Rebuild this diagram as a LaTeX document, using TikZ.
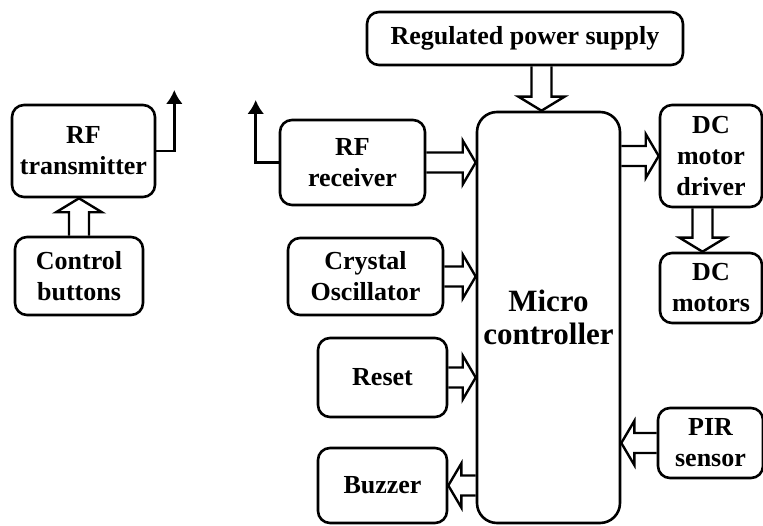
\documentclass[tikz,border=0pt]{standalone}
\usepackage{fontspec}
\setmainfont{Liberation Serif}
\usetikzlibrary{calc,arrows.meta}
\tikzset{
  box/.style={draw, line width=2.6pt, rounded corners=12pt, align=center,
    font=\fontsize{26}{31}\selectfont\bfseries, inner sep=0pt},
  blk/.style={draw, line width=2.4pt, line join=miter, miter limit=10},
  ant/.style={draw, line width=2.6pt, -{Latex[length=14pt,width=17pt]}}
}
\newcommand\hblk[2]{%
  \path[blk] let \p1=(#1), \p2=(#2), \n1={(\x2>\x1)?1:-1} in
    (\x1,\y1+10pt) -- (\x2-\n1*13pt,\y1+10pt) -- (\x2-\n1*13pt,\y1+22pt) -- (\x2,\y1)
    -- (\x2-\n1*13pt,\y1-22pt) -- (\x2-\n1*13pt,\y1-10pt) -- (\x1,\y1-10pt);}
\newcommand\vblk[2]{%
  \path[blk] let \p1=(#1), \p2=(#2), \n1={(\y2>\y1)?1:-1} in
    (\x1+10pt,\y1) -- (\x1+10pt,\y2-\n1*14pt) -- (\x1+23pt,\y2-\n1*14pt) -- (\x1,\y2)
    -- (\x1-23pt,\y2-\n1*14pt) -- (\x1-10pt,\y2-\n1*14pt) -- (\x1-10pt,\y1);}
\begin{document}
\begin{tikzpicture}[x=1pt,y=-1pt]
\useasboundingbox[fill=white] (0,0) rectangle (763,526);
% nodes
\node[box, minimum width=143pt, minimum height=92pt] (tx) at (83.5,151) {RF\\transmitter};
\node[box, minimum width=128pt, minimum height=78pt] (cb) at (79,276) {Control\\buttons};
\node[box, minimum width=145pt, minimum height=85pt] (rx) at (352.5,162.5) {RF\\receiver};
\node[box, minimum width=155pt, minimum height=77pt] (co) at (365.5,276.5) {Crystal\\Oscillator};
\node[box, minimum width=129pt, minimum height=79pt] (rs) at (382.5,377.5) {Reset};
\node[box, minimum width=129pt, minimum height=75pt] (bz) at (382.5,485.5) {Buzzer};
\node[box, rounded corners=20pt, minimum width=143pt, minimum height=411pt,
      font=\fontsize{31}{33}\selectfont\bfseries] (mc) at (548.5,317.5) {Micro\\controller};
\node[box, minimum width=316pt, minimum height=53pt] (ps) at (525,38.5) {Regulated power supply};
\node[box, minimum width=102pt, minimum height=102pt] (dd) at (711,156) {DC\\motor\\driver};
\node[box, minimum width=102pt, minimum height=70pt] (dm) at (711,288) {DC\\motors};
\node[box, minimum width=105pt, minimum height=70pt] (pir) at (710.5,443) {PIR\\sensor};
% helper coordinates
\coordinate (pa) at ($(ps.south)+(16.5,0)$);
\coordinate (da) at ($(dd.south)+(-8.5,0)$);
\coordinate (txa) at ($(tx.east)+(18,-61)$);
\coordinate (rxa) at ($(rx.west)+(-23,-62.5)$);
% block arrows
\vblk{cb.north}{tx.south -| cb.north}
\vblk{pa}{pa |- mc.north}
\vblk{da}{da |- dm.north}
\hblk{rx.east}{mc.west |- rx.east}
\hblk{co.east}{mc.west |- co.east}
\hblk{rs.east}{mc.west |- rs.east}
\hblk{mc.west |- bz.east}{bz.east}
\hblk{pir.west}{mc.east |- pir.west}
\hblk{mc.east |- dd.west}{dd.west}
% antennas
\draw[ant] (tx.east) -| (txa);
\draw[ant] (rx.west) -| (rxa);
\end{tikzpicture}
\end{document}
